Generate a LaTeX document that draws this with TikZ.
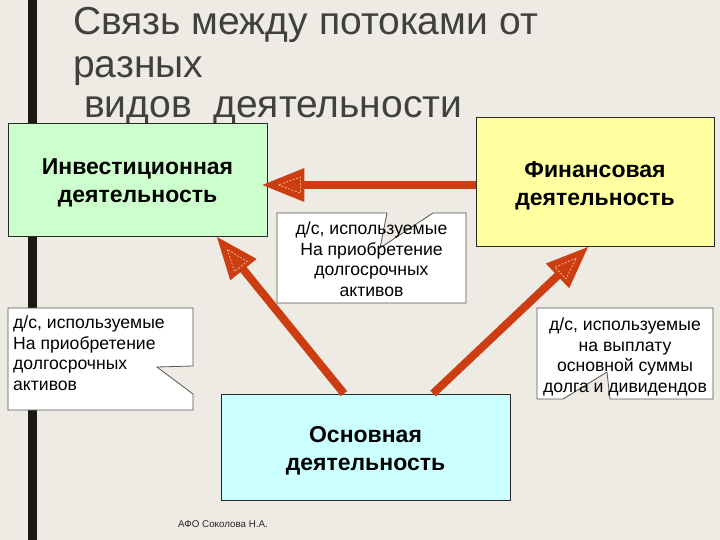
\documentclass[tikz,border=0pt]{standalone}
\usepackage{fontspec}
\setmainfont{Liberation Sans}
\usetikzlibrary{calc}
\definecolor{bg}{RGB}{238,235,228}
\definecolor{barc}{RGB}{26,24,18}
\definecolor{arr}{RGB}{204,62,18}
\definecolor{innerc}{RGB}{250,205,160}
\definecolor{gfill}{RGB}{204,255,204}
\definecolor{yfill}{RGB}{255,255,160}
\definecolor{cfill}{RGB}{204,255,255}
\definecolor{titlec}{RGB}{64,64,64}
\definecolor{edgec}{RGB}{40,40,40}
\newcommand\flowarrow[2]{%
  \coordinate (fa-b) at ($(#2)!42pt!(#1)$);
  \coordinate (fa-i) at ($(#2)!38pt!(#1)$);
  \draw[arr, line width=8pt] (#1) -- ($(#2)!40pt!(#1)$);
  \fill[arr] (#2) -- ($(fa-b)!17pt!90:(#2)$) -- ($(fa-b)!17pt!-90:(#2)$) -- cycle;
  \draw[innerc, line width=0.6pt, dash pattern=on 2pt off 1.5pt]
    ($(#2)!16pt!(#1)$) -- ($(fa-i)!8pt!90:(#2)$) -- ($(fa-i)!8pt!-90:(#2)$) -- cycle;
}
\tikzset{
  titletext/.style={text=titlec, inner sep=0pt, font=\fontsize{39}{44}\selectfont},
  actbox/.style={draw=edgec, line width=0.8pt, inner sep=0pt},
  acttext/.style={align=center, inner sep=0pt, font=\fontsize{23}{28}\selectfont\bfseries},
  callout/.style={draw=edgec!80, fill=white, line width=0.8pt},
  ctext/.style={inner sep=0pt, font=\fontsize{17.6}{20.5}\selectfont}
}
\begin{document}
\begin{tikzpicture}[x=1pt,y=-1pt]
\useasboundingbox (0,0) rectangle (720,540);
\fill[bg] (0,0) rectangle (720,540);
\fill[barc] (28,0) rectangle (37,540);
% title
\node[titletext, anchor=base west] (t1) at (73,35) {Связь между потоками от};
\node[titletext, anchor=base west] (t2) at (73,78) {разных};
\node[titletext, anchor=base west] (t3) at (84,118) {видов\ \ деятельности};
% boxes
\node[actbox, fill=gfill, minimum width=259pt, minimum height=113pt] (inv) at (137.5,179.5) {};
\node[acttext] (inv-t) at ($(inv.center)+(0,3)$) {Инвестиционная\\деятельность};
\node[actbox, fill=yfill, minimum width=238pt, minimum height=129pt] (fin) at (595,181.5) {};
\node[acttext] (fin-t) at ($(fin.center)+(0,4)$) {Финансовая\\деятельность};
\node[actbox, fill=cfill, minimum width=289pt, minimum height=106pt] (main) at (365.5,447) {};
\node[acttext] (main-t) at ($(main.center)+(0,4)$) {Основная\\деятельность};
% arrows
\coordinate (hs) at ($(fin.west)+(0,3.5)$);
\coordinate (ht) at ($(inv.east)+(-5,5.5)$);
\flowarrow{hs}{ht}
\coordinate (ls) at ($(main.north)+(-21.5,0)$);
\coordinate (lt) at (217,237);
\flowarrow{ls}{lt}
\coordinate (rs) at ($(main.north)+(67.5,0)$);
\coordinate (rt) at (588,247);
\flowarrow{rs}{rt}
% middle callout
\draw[callout] (277,213) -- (387,213) -- (380,248) -- (433,213) -- (466,213) -- (466,303) -- (277,303) -- cycle;
\node[ctext, align=center] (c2) at (371.5,259) {д/с, используемые\\На приобретение\\долгосрочных\\активов};
% left callout
\draw[callout] (8,308) -- (193,308) -- (193,366) -- (157,367) -- (193,394) -- (193,410) -- (8,410) -- cycle;
\node[ctext, align=left, anchor=north west] (c1) at (13,316) {д/с, используемые\\На приобретение\\долгосрочных\\активов};
% right callout
\draw[callout] (537,308) -- (713,308) -- (713,399) -- (610,399) -- (607,372) -- (563,399) -- (537,399) -- cycle;
\node[ctext, align=center] (c3) at (625,357) {д/с, используемые\\на выплату\\основной суммы\\долга и дивидендов};
% footer
\node[inner sep=0pt, anchor=west, text=black!85, font=\fontsize{9.8}{11}\selectfont] (foot) at (178,524) {АФО Соколова Н.А.};
\end{tikzpicture}
\end{document}
